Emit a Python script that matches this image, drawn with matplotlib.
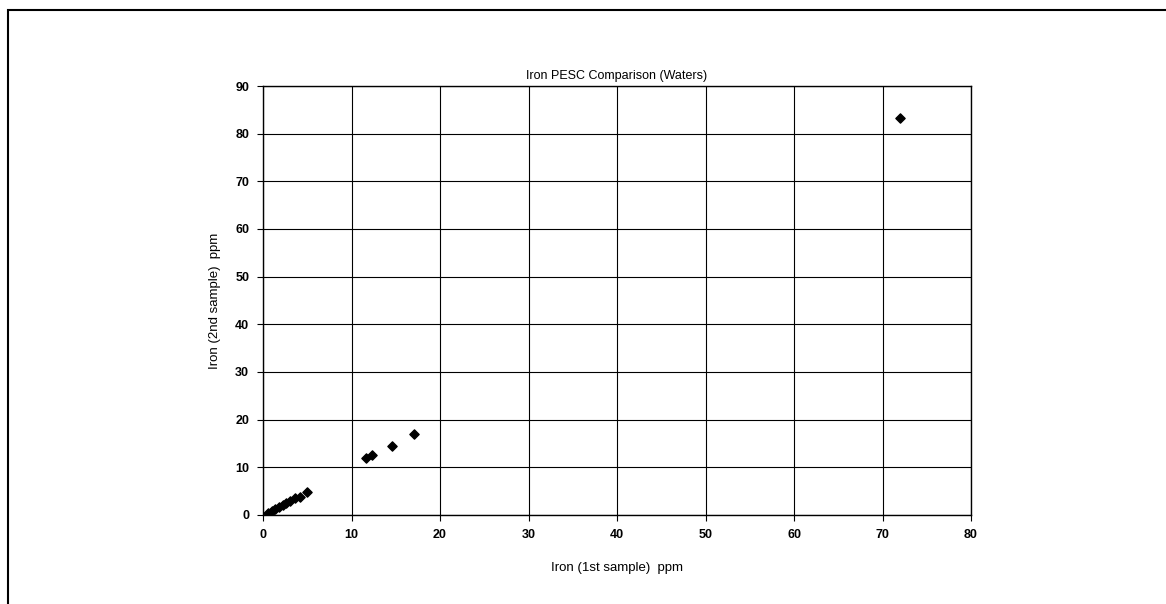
import matplotlib
matplotlib.use("Agg")
import matplotlib.pyplot as plt
from matplotlib.patches import Rectangle

plt.rcParams['font.family'] = ['Liberation Sans', 'DejaVu Sans']

# 数据：第一次和第二次采样的铁含量 (ppm)
iron_1st = [0.6, 1.0, 1.4, 1.8, 2.2, 2.6, 3.0, 3.6, 4.2, 5.0, 11.6, 12.3, 14.6, 17.1, 72.0]
iron_2nd = [0.5, 0.9, 1.3, 1.7, 2.1, 2.5, 2.9, 3.5, 3.7, 4.9, 12.0, 12.6, 14.4, 16.9, 83.2]

xticks = list(range(0, 81, 10))
yticks = list(range(0, 91, 10))

fig = plt.figure(figsize=(11.66, 6.04), dpi=100)
ax = fig.add_axes([0.2256, 0.1474, 0.6072, 0.7102])

ax.scatter(iron_1st, iron_2nd, marker='D', s=22, color='black', zorder=3)

ax.set_xlim(0, 80)
ax.set_ylim(0, 90)
ax.set_xticks(xticks)
ax.set_yticks(yticks)
ax.grid(True, color='black', linewidth=0.8)
ax.set_axisbelow(True)
for spine in ax.spines.values():
    spine.set_linewidth(1.0)
ax.tick_params(direction='out', length=4, width=0.8, labelsize=9, pad=6)
for lab in ax.get_xticklabels() + ax.get_yticklabels():
    lab.set_fontweight('bold')

ax.set_title("Iron PESC Comparison (Waters)", fontsize=9, pad=5)
ax.set_xlabel("Iron (1st sample)  ppm", fontsize=9.5, labelpad=15)
ax.set_ylabel("Iron (2nd sample)  ppm", fontsize=9.5, labelpad=10)

# 外框
fig.patches.append(Rectangle((8 / 1166, -0.05), 1.1, 1 - 10 / 604 + 0.05,
                             transform=fig.transFigure, fill=False,
                             edgecolor='black', linewidth=1.5))

plt.savefig("out.png", dpi=100)
